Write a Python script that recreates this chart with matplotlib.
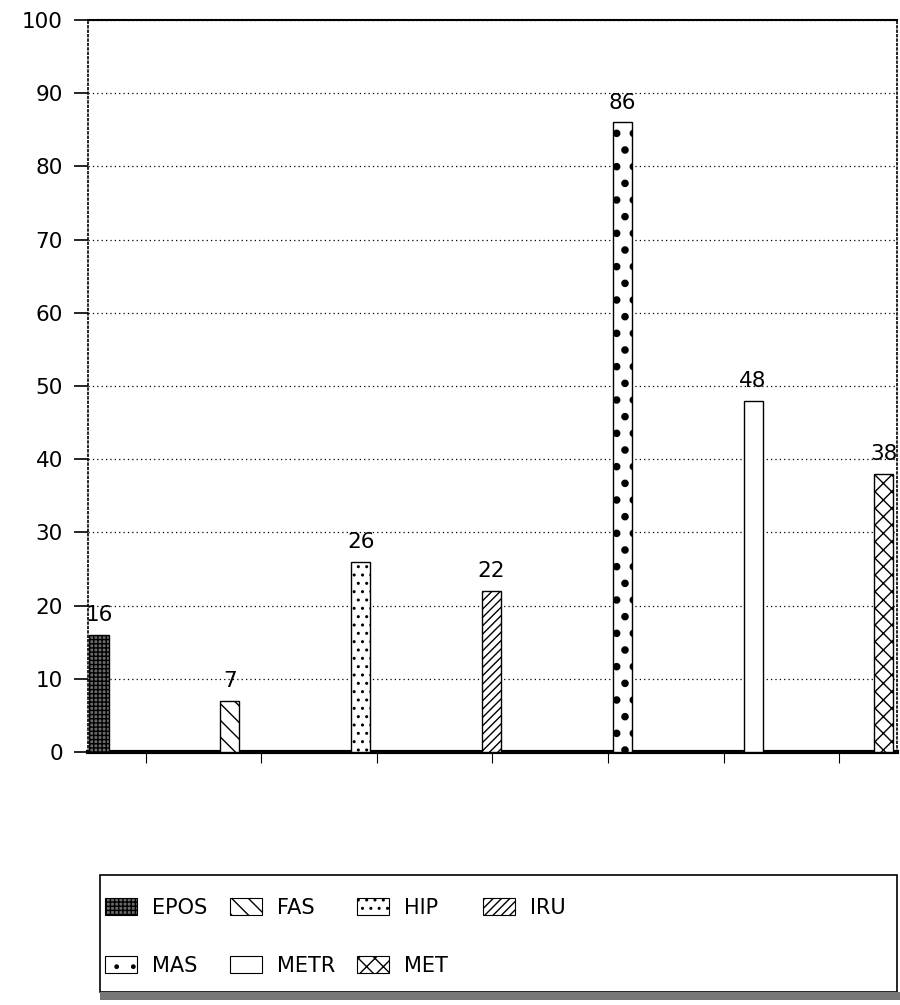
import matplotlib
matplotlib.use("Agg")
import matplotlib.pyplot as plt
from matplotlib.patches import Rectangle, Patch

series = ['EPOS', 'FAS', 'HIP', 'IRU', 'MAS', 'METR', 'MET']
values = [16, 7, 26, 22, 86, 48, 38]
yticks = [0, 10, 20, 30, 40, 50, 60, 70, 80, 90, 100]

# styles
faces = ['#6a6a6a', 'white', 'white', 'white', 'white', 'white', 'white']
hatches = ['++++', '\\\\', '..', '////', '.', '', 'xx']
hatch_lw = [1.0, 1.0, 1.0, 1.0, 3.0, 1.0, 1.0]

plt.rcParams['font.family'] = ['DejaVu Sans']

fig = plt.figure(figsize=(9, 10.05), dpi=100)
ax = fig.add_axes([88/900, 1 - 752/1005, (897-88)/900, (752-20)/1005])

n = len(series)
bar_start, bar_step, bar_w = 0.095, 1.132, 0.165
xs = [bar_start + i * bar_step for i in range(n)]

for x, v, fc, h, hl in zip(xs, values, faces, hatches, hatch_lw):
    plt.rcParams['hatch.linewidth'] = hl
    ax.bar(x, v, width=bar_w, facecolor=fc, hatch=h, edgecolor='black',
           linewidth=1.0, zorder=3)
    ax.annotate(str(v), (x, v), xytext=(0, 7), textcoords='offset points',
                ha='center', va='bottom', fontsize=15.5, clip_on=False,
                annotation_clip=False)

ax.set_xlim(0, n)
ax.set_ylim(0, 100)
ax.set_yticks(yticks)
ax.set_xticks([i + 0.5 for i in range(n)])
ax.set_xticklabels([])
ax.tick_params(axis='y', labelsize=15.5, length=10, width=1.2, pad=8)
ax.tick_params(axis='x', length=8, width=0.8, direction='out')
ax.yaxis.grid(True, linestyle=(0, (1, 2.5)), color='black', linewidth=0.9)
ax.set_axisbelow(True)

ax.spines['top'].set_linewidth(1.5)
ax.spines['bottom'].set_linewidth(3)
ax.spines['left'].set_linestyle(':')
ax.spines['left'].set_linewidth(1.2)
ax.spines['right'].set_linestyle(':')
ax.spines['right'].set_linewidth(1.2)

# legend frame
frame = Rectangle((100/900, 1 - 992/1005), (897-100)/900, (992-875)/1005,
                  transform=fig.transFigure, facecolor='white',
                  edgecolor='black', linewidth=1.2)
fig.patches.append(frame)
shadow = Rectangle((100/900, 1 - 1000/1005), (900-100)/900, 8/1005,
                   transform=fig.transFigure, facecolor='#777777',
                   edgecolor='none')
fig.patches.append(shadow)

handles = []
for fc, h, hl in zip(faces, hatches, hatch_lw):
    plt.rcParams['hatch.linewidth'] = min(hl, 2.0)
    handles.append(Patch(facecolor=fc, hatch=h, edgecolor='black',
                         linewidth=0.8))

# legend: 4 columns, 2 rows (row-major order)
col_x = [105, 230, 357, 483]
ncol = 4
for c in range(ncol):
    idx = [i for i in range(len(series)) if i % ncol == c]
    leg = fig.legend([handles[i] for i in idx], [series[i] for i in idx],
                     loc='upper left',
                     bbox_to_anchor=(col_x[c]/900, 1 - 898/1005),
                     frameon=False, fontsize=15, handlelength=1.55,
                     handleheight=0.85, handletextpad=0.72,
                     labelspacing=1.8, borderpad=0, borderaxespad=0)

fig.savefig('out.png', dpi=100)
